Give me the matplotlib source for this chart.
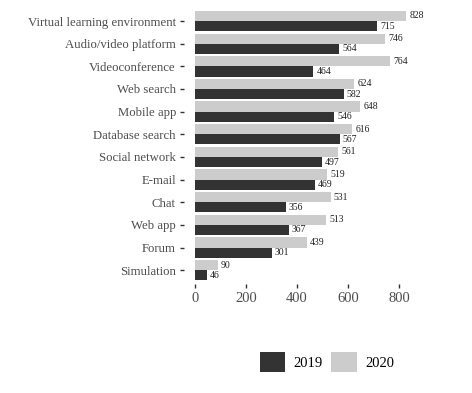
import matplotlib.pyplot as plt
import numpy as np
from matplotlib.patches import Patch

categories = ["Virtual learning environment", "Audio/video platform", "Videoconference",
              "Web search", "Mobile app", "Database search", "Social network",
              "E-mail", "Chat", "Web app", "Forum", "Simulation"]
values_2019 = [715, 564, 464, 582, 546, 567, 497, 469, 356, 367, 301, 46]
values_2020 = [828, 746, 764, 624, 648, 616, 561, 519, 531, 513, 439, 90]
years = ["2019", "2020"]

dark = "#333333"
light = "#cccccc"

plt.rcParams['font.family'] = ['Liberation Serif', 'DejaVu Serif']

fig = plt.figure(figsize=(4.72, 3.93), dpi=100)
ax = fig.add_axes([0.3905, 0.278, 0.493, 0.703])

n = len(categories)
y = np.arange(n)[::-1]
h = 0.45

ax.barh(y - h / 2, values_2019, height=h, color=dark)
ax.barh(y + h / 2, values_2020, height=h, color=light)

for yi, v in zip(y, values_2019):
    ax.text(v + 12, yi - h / 2, str(v), va="center", ha="left", fontsize=7, color="#222222")
for yi, v in zip(y, values_2020):
    ax.text(v + 12, yi + h / 2, str(v), va="center", ha="left", fontsize=7, color="#222222")

ax.set_yticks(y)
ax.set_yticklabels(categories, fontsize=9.2, color="#4d4d4d")
ax.set_xticks([0, 200, 400, 600, 800])
ax.tick_params(axis="x", labelsize=10.5, labelcolor="#4d4d4d", length=3, width=1, color="#333333", pad=3)
ax.tick_params(axis="y", length=3, width=1, color="#333333", pad=3)
ax.set_xlim(-42, 870)
ax.set_ylim(-0.6, n - 0.4)
for s in ax.spines.values():
    s.set_visible(False)

handles = [Patch(facecolor=dark, edgecolor="none"), Patch(facecolor=light, edgecolor="none")]
fig.legend(handles, years, ncol=2, loc="center", bbox_to_anchor=(327 / 472, 1 - 362 / 393),
           frameon=False, fontsize=10.5, handlelength=1.75, handleheight=1.75,
           handletextpad=0.6, columnspacing=0.55)

fig.savefig("out.png", dpi=100)
